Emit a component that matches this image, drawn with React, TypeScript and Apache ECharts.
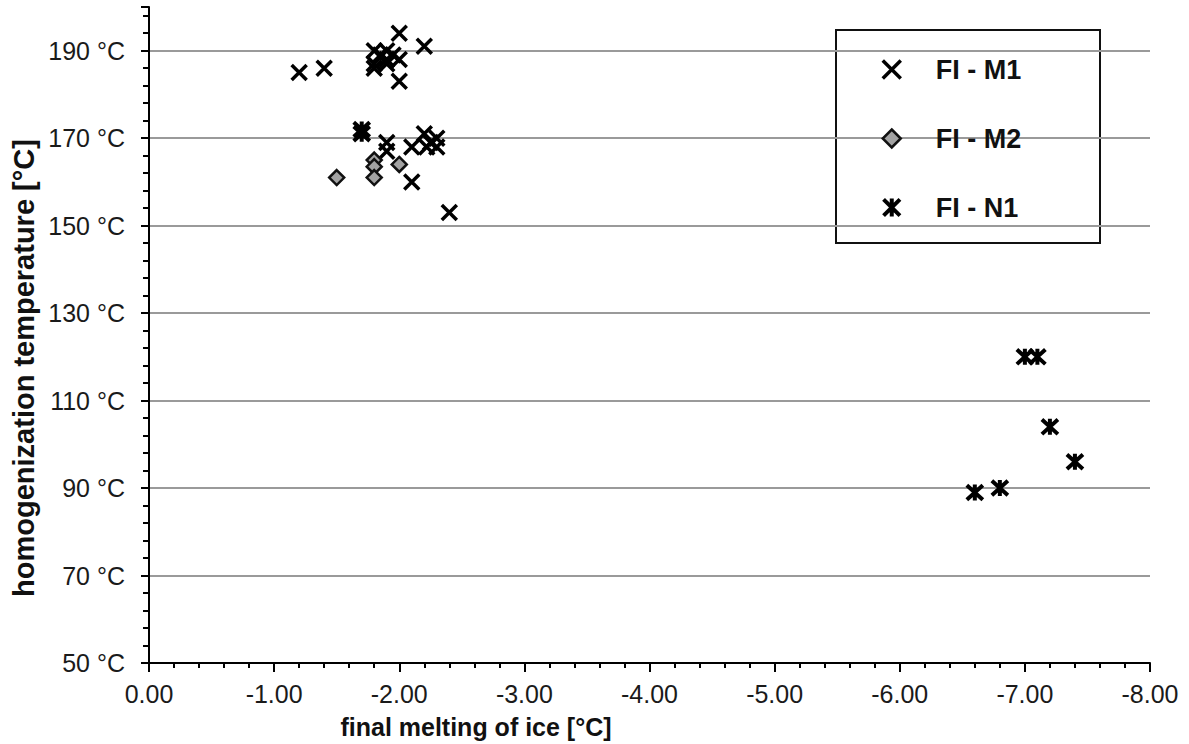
import React, { useEffect, useRef } from "react";
import * as echarts from "echarts";

const xTickLabelsDigits = 2;
const yTickStep = 20;
const yMin = 50;
const yMax = 200;
const xMin = -8;
const xMax = 0;

const seriesNames = ["FI - M1", "FI - M2", "FI - N1"];

const m1Points: [number, number][] = [
  [-1.2, 185], [-1.4, 186], [-1.8, 190], [-1.85, 189], [-1.9, 190], [-1.95, 189],
  [-1.8, 187], [-1.8, 186], [-1.9, 187], [-1.9, 188], [-2.0, 188], [-2.0, 183],
  [-2.0, 194], [-2.2, 191],
  [-1.9, 169], [-1.9, 167], [-2.1, 168], [-2.2, 171], [-2.22, 168], [-2.25, 169],
  [-2.3, 170], [-2.3, 168], [-2.1, 160], [-2.4, 153],
];

const m2Points: [number, number][] = [
  [-1.5, 161], [-1.8, 165], [-1.8, 163.5], [-1.8, 161], [-2.0, 164],
];

const n1Points: [number, number][] = [
  [-1.7, 172], [-1.7, 171],
  [-7.0, 120], [-7.1, 120], [-7.2, 104], [-7.4, 96], [-6.6, 89], [-6.8, 90],
];

const FONT = "'Liberation Sans', Arial, sans-serif";
const X_PATH = "path://M0,0L10,10M10,0L0,10";
const STAR_PATH = "path://M0,0L10,10M10,0L0,10M5,-0.5L5,10.5";

const m1Style = { color: "transparent", borderColor: "#000", borderWidth: 3.5, opacity: 1 };
const m2Style = { color: "#a3a3a3", borderColor: "#111", borderWidth: 2.5, opacity: 1 };
const n1Style = { color: "transparent", borderColor: "#000", borderWidth: 4, opacity: 1 };

export default function App() {
  const ref = useRef<HTMLDivElement>(null);

  useEffect(() => {
    if (!ref.current) return;
    const chart = echarts.init(ref.current, null, { renderer: "svg" });
    const option: any = {
      animation: false,
      backgroundColor: "#ffffff",
      grid: { left: 149, right: 39, top: 7, bottom: 81, containLabel: false },
      xAxis: {
        type: "value",
        min: xMin,
        max: xMax,
        interval: 1,
        inverse: true,
        axisLine: { show: true, onZero: false, lineStyle: { color: "#000", width: 2 } },
        axisTick: { show: true, length: 9, lineStyle: { color: "#000", width: 2 } },
        minorTick: { show: true, splitNumber: 5, length: 5, lineStyle: { color: "#000", width: 2 } },
        splitLine: { show: false },
        axisLabel: {
          color: "#1a1a1a",
          fontFamily: FONT,
          fontSize: 25,
          margin: 18,
          formatter: (v: number) => (Math.abs(v) < 1e-9 ? 0 : v).toFixed(xTickLabelsDigits),
        },
      },
      yAxis: {
        type: "value",
        min: yMin,
        max: yMax,
        interval: yTickStep,
        axisLine: { show: true, lineStyle: { color: "#000", width: 2 } },
        axisTick: { show: true, length: 8, lineStyle: { color: "#000", width: 2 } },
        minorTick: { show: true, splitNumber: 5, length: 6, lineStyle: { color: "#000", width: 2 } },
        splitLine: {
          show: true,
          showMinLine: false,
          showMaxLine: false,
          lineStyle: { color: "#9a9a9a", width: 2 },
        },
        axisLabel: {
          color: "#1a1a1a",
          fontFamily: FONT,
          fontSize: 25,
          margin: 24,
          showMaxLabel: false,
          formatter: (v: number) => (v > 195 ? "" : `${v} °C`),
        },
      },
      legend: {
        orient: "vertical",
        left: 876,
        top: 51,
        itemWidth: 18,
        itemHeight: 18,
        itemGap: 42,
        symbolKeepAspect: true,
        textStyle: {
          fontFamily: FONT,
          fontSize: 27,
          fontWeight: "bold",
          color: "#111",
          padding: [0, 0, 0, 30],
          lineHeight: 26,
        },
        data: [
          { name: seriesNames[0], itemStyle: { ...m1Style, borderWidth: 3.5 } },
          { name: seriesNames[1], itemStyle: { ...m2Style } },
          { name: seriesNames[2], itemStyle: { ...n1Style } },
        ],
      },
      graphic: [
        {
          type: "rect",
          left: 835,
          top: 29,
          shape: { width: 264, height: 213 },
          style: { fill: "#fff", stroke: "#111", lineWidth: 2 },
          z: 0,
        },
        {
          type: "text",
          x: 476,
          y: 714,
          style: {
            text: "final melting of ice [°C]",
            font: `bold 25px ${FONT}`,
            fill: "#111",
            textAlign: "center",
            textVerticalAlign: "top",
          },
        },
        {
          type: "text",
          x: 24,
          y: 368,
          rotation: Math.PI / 2,
          style: {
            text: "homogenization temperature [°C]",
            font: `bold 29px ${FONT}`,
            fill: "#111",
            textAlign: "center",
            textVerticalAlign: "middle",
          },
        },
      ],
      series: [
        {
          name: seriesNames[0],
          type: "scatter",
          symbol: X_PATH,
          symbolSize: 15,
          itemStyle: m1Style,
          data: m1Points,
          z: 3,
        },
        {
          name: seriesNames[1],
          type: "scatter",
          symbol: "diamond",
          symbolSize: 15,
          itemStyle: m2Style,
          data: m2Points,
          z: 4,
        },
        {
          name: seriesNames[2],
          type: "scatter",
          symbol: STAR_PATH,
          symbolSize: 16,
          itemStyle: n1Style,
          data: n1Points,
          z: 5,
        },
      ],
    };
    chart.setOption(option);
    return () => chart.dispose();
  }, []);

  return <div ref={ref} style={{ width: 1189, height: 744, position: "absolute", left: 0, top: 0 }} />;
}
